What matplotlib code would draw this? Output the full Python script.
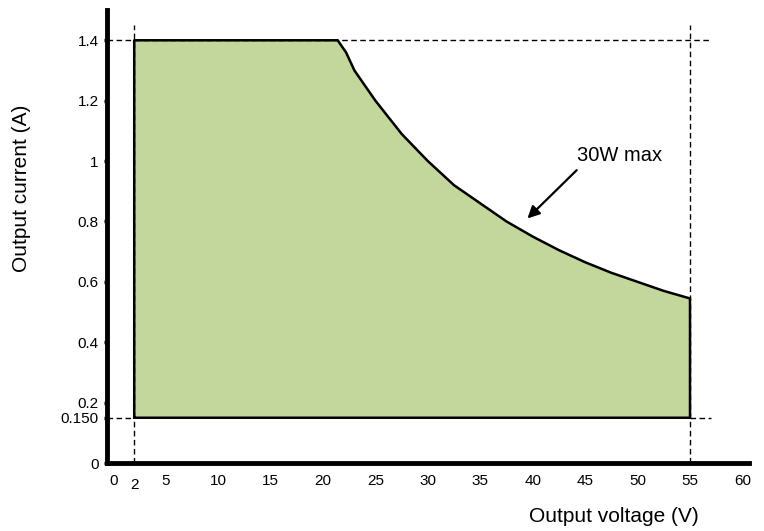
import matplotlib.pyplot as plt

plt.rcParams['font.family'] = ['Liberation Sans', 'DejaVu Sans']

# operating envelope
v_min, v_max = 2, 55
i_min, i_max = 0.150, 1.4
curve_v = [21.4, 22.2, 23, 25, 27.5, 30, 32.5, 35, 37.5, 40, 42.5, 45, 47.5, 50, 52.5, 55]
curve_i = [1.4, 1.36, 1.30, 1.20, 1.09, 1.00, 0.92, 0.86, 0.80, 0.75, 0.705, 0.665, 0.63, 0.60, 0.57, 0.545]

x_ticks = [0, 2, 5, 10, 15, 20, 25, 30, 35, 40, 45, 50, 55, 60]
y_ticks = [0, 0.150, 0.2, 0.4, 0.6, 0.8, 1, 1.2, 1.4]
y_labels = ['0', '0.150', '0.2', '0.4', '0.6', '0.8', '1', '1.2', '1.4']

fig = plt.figure(figsize=(7.64, 5.31), dpi=100)
ax = fig.add_axes([0.140, 0.128, 0.840, 0.853])

# envelope polygon
xs = [v_min, v_min] + curve_v + [v_max, v_min]
ys = [i_min, i_max] + curve_i + [i_min, i_min]
ax.fill(xs, ys, color='#c3d69b', zorder=1)
ax.plot(xs, ys, color='black', lw=1.8, zorder=3, solid_joinstyle='round')

# dashed guide lines
dash = dict(color='black', lw=1, ls=(0, (4, 2.5)), zorder=2)
ax.plot([-0.6, 56.8], [i_max, i_max], **dash)
ax.plot([-0.6, v_min], [i_min, i_min], **dash)
ax.plot([v_max, 57], [i_min, i_min], **dash)
ax.plot([v_min, v_min], [0, 1.45], **dash)
ax.plot([v_max, v_max], [0, 1.45], **dash)

ax.text(44.2, 1.02, '30W max', fontsize=14.5, ha='left', va='center')
ax.annotate('', xy=(39.5, 0.81), xytext=(44.2, 0.97),
            arrowprops=dict(arrowstyle='-|>', color='black', lw=1.6,
                            mutation_scale=18, shrinkA=0, shrinkB=0))

ax.set_xlim(-0.6, 60.6)
ax.set_ylim(0, 1.5)
for s in ['top', 'right']:
    ax.spines[s].set_visible(False)
for s in ['left', 'bottom']:
    ax.spines[s].set_linewidth(3.5)

ax.set_xticks(x_ticks)
ax.set_xticklabels([str(t) for t in x_ticks])
ax.set_yticks(y_ticks)
ax.set_yticklabels(y_labels)
ax.tick_params(axis='x', length=0, pad=8, labelsize=11)
ax.tick_params(axis='y', length=2, width=2.5, pad=4, labelsize=11)
for lab in ax.get_xticklabels():
    if lab.get_text() == '2':
        lab.set_y(-0.008)

fig.text(0.028, 0.646, 'Output current (A)', rotation=90, ha='center', va='center', fontsize=15)
fig.text(0.915, 0.028, 'Output voltage (V)', ha='right', va='center', fontsize=15)

fig.savefig('out.png', dpi=100)
